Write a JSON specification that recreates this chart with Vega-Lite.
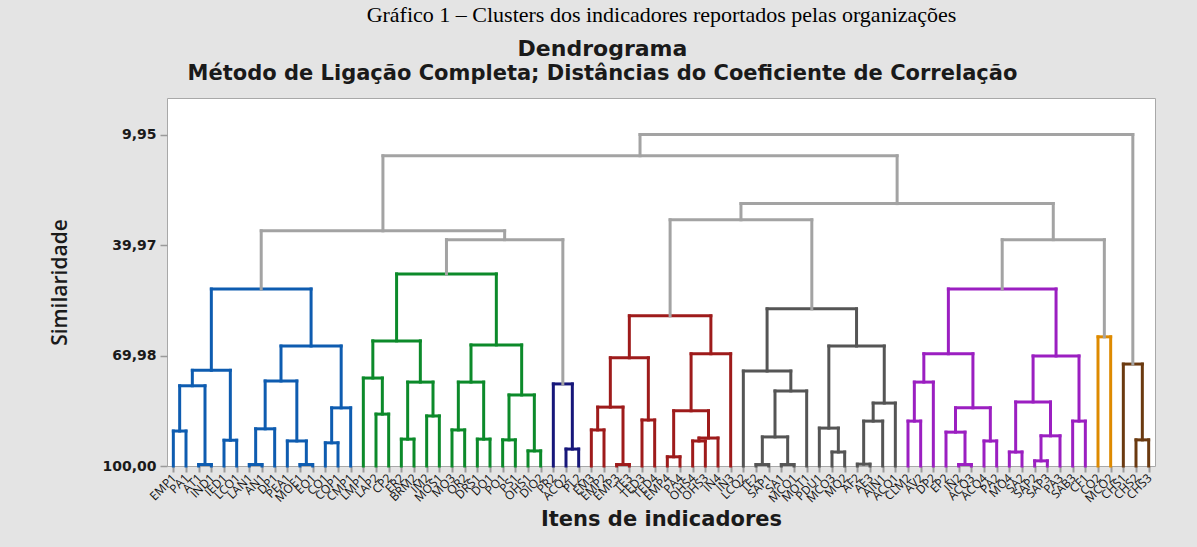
{
  "$schema": "https://vega.github.io/schema/vega-lite/v6.json",
  "width": 988,
  "height": 368,
  "autosize": {"type": "none"},
  "padding": {"left": 167, "top": 98, "right": 42, "bottom": 81},
  "background": "#e4e4e4",
  "view": {"fill": "white", "stroke": "#a8a8a8", "strokeWidth": 1},
  "title": {
    "text": "Dendrograma",
    "subtitle": "Método de Ligação Completa; Distâncias do Coeficiente de Correlação",
    "font": "DejaVu Sans",
    "fontSize": 22,
    "fontWeight": "bold",
    "subtitleFont": "DejaVu Sans",
    "subtitleFontSize": 21,
    "subtitleFontWeight": "bold",
    "color": "#1a1a1a",
    "subtitleColor": "#1a1a1a",
    "anchor": "middle",
    "frame": "bounds",
    "offset": -82,
    "subtitlePadding": 2
  },
  "datasets": {
    "merges": [
      {"xl": 0, "xr": 1, "hl": 100, "hr": 100, "h": 90.5, "c": "b"},
      {"xl": 2, "xr": 3, "hl": 100, "hr": 100, "h": 99.6, "c": "b"},
      {"xl": 0.5, "xr": 2.5, "hl": 90.5, "hr": 99.6, "h": 78.2, "c": "b"},
      {"xl": 4, "xr": 5, "hl": 100, "hr": 100, "h": 93.0, "c": "b"},
      {"xl": 1.5, "xr": 4.5, "hl": 78.2, "hr": 93.0, "h": 74.0, "c": "b"},
      {"xl": 6, "xr": 7, "hl": 100, "hr": 100, "h": 99.6, "c": "b"},
      {"xl": 6.5, "xr": 8, "hl": 99.6, "hr": 100, "h": 89.9, "c": "b"},
      {"xl": 10, "xr": 11, "hl": 100, "hr": 100, "h": 99.6, "c": "b"},
      {"xl": 9, "xr": 10.5, "hl": 100, "hr": 99.6, "h": 93.2, "c": "b"},
      {"xl": 7.25, "xr": 9.75, "hl": 89.9, "hr": 93.2, "h": 76.9, "c": "b"},
      {"xl": 12, "xr": 13, "hl": 100, "hr": 100, "h": 93.7, "c": "b"},
      {"xl": 12.5, "xr": 14, "hl": 93.7, "hr": 100, "h": 84.2, "c": "b"},
      {"xl": 8.5, "xr": 13.25, "hl": 76.9, "hr": 84.2, "h": 67.4, "c": "b"},
      {"xl": 3, "xr": 10.875, "hl": 74.0, "hr": 67.4, "h": 51.9, "c": "b"},
      {"xl": 16, "xr": 17, "hl": 100, "hr": 100, "h": 85.9, "c": "g"},
      {"xl": 15, "xr": 16.5, "hl": 100, "hr": 85.9, "h": 76.1, "c": "g"},
      {"xl": 18, "xr": 19, "hl": 100, "hr": 100, "h": 92.7, "c": "g"},
      {"xl": 20, "xr": 21, "hl": 100, "hr": 100, "h": 86.4, "c": "g"},
      {"xl": 18.5, "xr": 20.5, "hl": 92.7, "hr": 86.4, "h": 77.2, "c": "g"},
      {"xl": 15.75, "xr": 19.5, "hl": 76.1, "hr": 77.2, "h": 66.0, "c": "g"},
      {"xl": 22, "xr": 23, "hl": 100, "hr": 100, "h": 90.2, "c": "g"},
      {"xl": 24, "xr": 25, "hl": 100, "hr": 100, "h": 92.7, "c": "g"},
      {"xl": 22.5, "xr": 24.5, "hl": 90.2, "hr": 92.7, "h": 77.2, "c": "g"},
      {"xl": 26, "xr": 27, "hl": 100, "hr": 100, "h": 92.9, "c": "g"},
      {"xl": 28, "xr": 29, "hl": 100, "hr": 100, "h": 95.9, "c": "g"},
      {"xl": 26.5, "xr": 28.5, "hl": 92.9, "hr": 95.9, "h": 80.7, "c": "g"},
      {"xl": 23.5, "xr": 27.5, "hl": 77.2, "hr": 80.7, "h": 67.1, "c": "g"},
      {"xl": 17.625, "xr": 25.5, "hl": 66.0, "hr": 67.1, "h": 47.8, "c": "g"},
      {"xl": 31, "xr": 32, "hl": 100, "hr": 100, "h": 95.4, "c": "n"},
      {"xl": 30, "xr": 31.5, "hl": 100, "hr": 95.4, "h": 77.7, "c": "n"},
      {"xl": 21.5625, "xr": 30.75, "hl": 47.8, "hr": 77.7, "h": 38.5, "c": "x"},
      {"xl": 6.9375, "xr": 26.15625, "hl": 51.9, "hr": 38.5, "h": 36.1, "c": "x"},
      {"xl": 33, "xr": 34, "hl": 100, "hr": 100, "h": 90.2, "c": "r"},
      {"xl": 35, "xr": 36, "hl": 100, "hr": 100, "h": 99.6, "c": "r"},
      {"xl": 33.5, "xr": 35.5, "hl": 90.2, "hr": 99.6, "h": 84.0, "c": "r"},
      {"xl": 37, "xr": 38, "hl": 100, "hr": 100, "h": 87.5, "c": "r"},
      {"xl": 34.5, "xr": 37.5, "hl": 84.0, "hr": 87.5, "h": 70.6, "c": "r"},
      {"xl": 39, "xr": 40, "hl": 100, "hr": 100, "h": 97.5, "c": "r"},
      {"xl": 41, "xr": 42, "hl": 100, "hr": 100, "h": 93.2, "c": "r"},
      {"xl": 41.5, "xr": 43, "hl": 93.2, "hr": 100, "h": 92.4, "c": "r"},
      {"xl": 39.5, "xr": 42.25, "hl": 97.5, "hr": 92.4, "h": 85.0, "c": "r"},
      {"xl": 40.875, "xr": 44, "hl": 85.0, "hr": 100, "h": 69.5, "c": "r"},
      {"xl": 36, "xr": 42.4375, "hl": 70.6, "hr": 69.5, "h": 59.2, "c": "r"},
      {"xl": 46, "xr": 47, "hl": 100, "hr": 100, "h": 99.6, "c": "d"},
      {"xl": 48, "xr": 49, "hl": 100, "hr": 100, "h": 99.6, "c": "d"},
      {"xl": 46.5, "xr": 48.5, "hl": 99.6, "hr": 99.6, "h": 92.1, "c": "d"},
      {"xl": 47.5, "xr": 50, "hl": 92.1, "hr": 100, "h": 79.6, "c": "d"},
      {"xl": 45, "xr": 48.75, "hl": 100, "hr": 79.6, "h": 74.2, "c": "d"},
      {"xl": 52, "xr": 53, "hl": 100, "hr": 100, "h": 96.2, "c": "d"},
      {"xl": 51, "xr": 52.5, "hl": 100, "hr": 96.2, "h": 89.7, "c": "d"},
      {"xl": 54, "xr": 55, "hl": 100, "hr": 100, "h": 99.5, "c": "d"},
      {"xl": 54.5, "xr": 56, "hl": 99.5, "hr": 100, "h": 87.8, "c": "d"},
      {"xl": 55.25, "xr": 57, "hl": 87.8, "hr": 100, "h": 82.9, "c": "d"},
      {"xl": 51.75, "xr": 56.125, "hl": 89.7, "hr": 82.9, "h": 67.4, "c": "d"},
      {"xl": 46.875, "xr": 53.9375, "hl": 74.2, "hr": 67.4, "h": 57.3, "c": "d"},
      {"xl": 39.21875, "xr": 50.40625, "hl": 59.2, "hr": 57.3, "h": 33.1, "c": "x"},
      {"xl": 58, "xr": 59, "hl": 100, "hr": 100, "h": 87.8, "c": "p"},
      {"xl": 58.5, "xr": 60, "hl": 87.8, "hr": 100, "h": 77.2, "c": "p"},
      {"xl": 62, "xr": 63, "hl": 100, "hr": 100, "h": 99.6, "c": "p"},
      {"xl": 61, "xr": 62.5, "hl": 100, "hr": 99.6, "h": 90.8, "c": "p"},
      {"xl": 64, "xr": 65, "hl": 100, "hr": 100, "h": 93.2, "c": "p"},
      {"xl": 61.75, "xr": 64.5, "hl": 90.8, "hr": 93.2, "h": 84.2, "c": "p"},
      {"xl": 59.25, "xr": 63.125, "hl": 77.2, "hr": 84.2, "h": 69.5, "c": "p"},
      {"xl": 66, "xr": 67, "hl": 100, "hr": 100, "h": 96.2, "c": "p"},
      {"xl": 68, "xr": 69, "hl": 100, "hr": 100, "h": 98.6, "c": "p"},
      {"xl": 68.5, "xr": 70, "hl": 98.6, "hr": 100, "h": 91.8, "c": "p"},
      {"xl": 66.5, "xr": 69.25, "hl": 96.2, "hr": 91.8, "h": 82.6, "c": "p"},
      {"xl": 71, "xr": 72, "hl": 100, "hr": 100, "h": 87.8, "c": "p"},
      {"xl": 67.875, "xr": 71.5, "hl": 82.6, "hr": 87.8, "h": 70.1, "c": "p"},
      {"xl": 61.1875, "xr": 69.6875, "hl": 69.5, "hr": 70.1, "h": 51.9, "c": "p"},
      {"xl": 73, "xr": 74, "hl": 100, "hr": 100, "h": 64.9, "c": "o"},
      {"xl": 65.4375, "xr": 73.5, "hl": 51.9, "hr": 64.9, "h": 38.5, "c": "x"},
      {"xl": 76, "xr": 77, "hl": 100, "hr": 100, "h": 92.9, "c": "w"},
      {"xl": 75, "xr": 76.5, "hl": 100, "hr": 92.9, "h": 72.3, "c": "w"},
      {"xl": 44.8125, "xr": 69.46875, "hl": 33.1, "hr": 38.5, "h": 28.7, "c": "x"},
      {"xl": 16.546875, "xr": 57.140625, "hl": 36.1, "hr": 28.7, "h": 15.7, "c": "x"},
      {"xl": 36.84375, "xr": 75.75, "hl": 15.7, "hr": 72.3, "h": 9.95, "c": "x"}
    ],
    "leaves": [
      {"i": 0, "n": "EMP1"}, {"i": 1, "n": "PA1"}, {"i": 2, "n": "AT1"}, {"i": 3, "n": "IND1"},
      {"i": 4, "n": "IED1"}, {"i": 5, "n": "LCO1"}, {"i": 6, "n": "LAN1"}, {"i": 7, "n": "AN1"},
      {"i": 8, "n": "DP1"}, {"i": 9, "n": "PEA1"}, {"i": 10, "n": "MOE1"}, {"i": 11, "n": "EO1"},
      {"i": 12, "n": "CO1"}, {"i": 13, "n": "COP1"}, {"i": 14, "n": "CMP1"}, {"i": 15, "n": "LMP1"},
      {"i": 16, "n": "LAP2"}, {"i": 17, "n": "CP2"}, {"i": 18, "n": "ER2"}, {"i": 19, "n": "BRM2"},
      {"i": 20, "n": "IM2"}, {"i": 21, "n": "MOS1"}, {"i": 22, "n": "MO3"}, {"i": 23, "n": "OR2"},
      {"i": 24, "n": "DRS1"}, {"i": 25, "n": "DO1"}, {"i": 26, "n": "PO1"}, {"i": 27, "n": "PS1"},
      {"i": 28, "n": "OHS1"}, {"i": 29, "n": "DIO2"}, {"i": 30, "n": "PR2"}, {"i": 31, "n": "ACQ2"},
      {"i": 32, "n": "PL2"}, {"i": 33, "n": "EM3"}, {"i": 34, "n": "EMP2"}, {"i": 35, "n": "EMP3"},
      {"i": 36, "n": "TE3"}, {"i": 37, "n": "TED3"}, {"i": 38, "n": "TED4"}, {"i": 39, "n": "EMP4"},
      {"i": 40, "n": "PA4"}, {"i": 41, "n": "OHS4"}, {"i": 42, "n": "OHS3"}, {"i": 43, "n": "IN4"},
      {"i": 44, "n": "IN3"}, {"i": 45, "n": "LCO2"}, {"i": 46, "n": "TE2"}, {"i": 47, "n": "SAP1"},
      {"i": 48, "n": "SA1"}, {"i": 49, "n": "MCO1"}, {"i": 50, "n": "MOT1"}, {"i": 51, "n": "PDU1"},
      {"i": 52, "n": "MCO3"}, {"i": 53, "n": "MQ2"}, {"i": 54, "n": "AF2"}, {"i": 55, "n": "AE3"},
      {"i": 56, "n": "AIN1"}, {"i": 57, "n": "ACQ1"}, {"i": 58, "n": "CLM2"}, {"i": 59, "n": "AV2"},
      {"i": 60, "n": "DP2"}, {"i": 61, "n": "EP2"}, {"i": 62, "n": "IN2"}, {"i": 63, "n": "ACQ3"},
      {"i": 64, "n": "ACQ4"}, {"i": 65, "n": "PA2"}, {"i": 66, "n": "MO4"}, {"i": 67, "n": "SA2"},
      {"i": 68, "n": "SAP2"}, {"i": 69, "n": "SAP3"}, {"i": 70, "n": "PA3"}, {"i": 71, "n": "SAB3"},
      {"i": 72, "n": "CF1"}, {"i": 73, "n": "CO2"}, {"i": 74, "n": "MCO2"}, {"i": 75, "n": "CHS1"},
      {"i": 76, "n": "CHS2"}, {"i": 77, "n": "CHS3"}
    ]
  },
  "layer": [
    {
      "data": {"name": "merges"},
      "mark": {"type": "rule", "strokeWidth": 3, "strokeCap": "square"},
      "encoding": {
        "x": {
          "field": "xl", "type": "quantitative", "title": "Itens de indicadores",
          "scale": {"domain": [-0.5, 77.5], "nice": false, "zero": false},
          "axis": {
            "orient": "bottom",
            "values": [0,1,2,3,4,5,6,7,8,9,10,11,12,13,14,15,16,17,18,19,20,21,22,23,24,25,26,27,28,29,30,31,32,33,34,35,36,37,38,39,40,41,42,43,44,45,46,47,48,49,50,51,52,53,54,55,56,57,58,59,60,61,62,63,64,65,66,67,68,69,70,71,72,73,74,75,76,77],
            "labels": false, "domain": false, "grid": false,
            "ticks": true, "tickSize": 6, "tickWidth": 2, "tickColor": "#9a9a9a",
            "titleFont": "DejaVu Sans", "titleFontSize": 21, "titleFontWeight": "bold",
            "titleColor": "#1a1a1a", "titlePadding": 35
          }
        },
        "x2": {"field": "xr"},
        "y": {
          "field": "h", "type": "quantitative", "title": "Similaridade",
          "scale": {"domain": [0, 100], "reverse": true, "nice": false, "zero": false},
          "axis": {
            "values": [9.95, 39.97, 69.98, 100],
            "labelExpr": "replace(format(datum.value, '.2f'), '.', ',')",
            "domain": false, "grid": false,
            "ticks": true, "tickSize": 7, "tickWidth": 1.5, "tickColor": "#9a9a9a",
            "labelFont": "DejaVu Sans", "labelFontSize": 14, "labelFontWeight": "bold",
            "labelColor": "#1a1a1a", "labelPadding": 4,
            "titleFont": "Open Sans", "titleFontSize": 21, "titleFontWeight": 600,
            "titleColor": "#1a1a1a", "titlePadding": 31
          }
        },
        "color": {
          "field": "c", "type": "nominal", "legend": null,
          "scale": {
            "domain": ["b", "g", "n", "r", "d", "p", "o", "w", "x"],
            "range": ["#0e5cb0", "#0c8a2a", "#17177a", "#9e1b1b", "#555555", "#9b1fc1", "#de8a00", "#6b3a10", "#a3a3a3"]
          }
        }
      }
    },
    {
      "data": {"name": "merges"},
      "mark": {"type": "rule", "strokeWidth": 3, "strokeCap": "square"},
      "encoding": {
        "x": {"field": "xl", "type": "quantitative", "title": "Itens de indicadores", "axis": null},
        "y": {"field": "hl", "type": "quantitative", "title": "Similaridade"},
        "y2": {"field": "h"},
        "color": {"field": "c", "type": "nominal", "legend": null}
      }
    },
    {
      "data": {"name": "merges"},
      "mark": {"type": "rule", "strokeWidth": 3, "strokeCap": "square"},
      "encoding": {
        "x": {"field": "xr", "type": "quantitative", "title": "Itens de indicadores", "axis": null},
        "y": {"field": "hr", "type": "quantitative", "title": "Similaridade"},
        "y2": {"field": "h"},
        "color": {"field": "c", "type": "nominal", "legend": null}
      }
    },
    {
      "data": {"name": "leaves"},
      "mark": {"type": "text", "angle": -45, "align": "right", "baseline": "middle", "yOffset": 10, "xOffset": 1, "font": "Open Sans", "fontSize": 12, "color": "#111111"},
      "encoding": {
        "x": {
          "field": "i", "type": "quantitative", "title": "Gráfico 1 – Clusters dos indicadores reportados pelas organizações",
          "axis": {
            "orient": "top", "labels": false, "ticks": false, "domain": false, "grid": false,
            "titleFont": "Liberation Serif", "titleFontSize": 22, "titleFontWeight": "normal",
            "titleColor": "#000000", "titlePadding": 72
          }
        },
        "y": {"datum": 100, "type": "quantitative", "title": "Similaridade"},
        "text": {"field": "n"}
      }
    }
  ],
  "resolve": {"axis": {"x": "independent"}}
}
